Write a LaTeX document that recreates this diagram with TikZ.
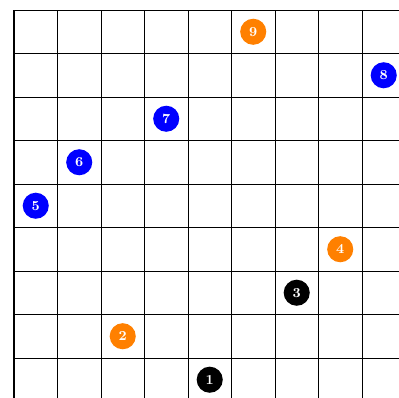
\documentclass[tikz,border=0pt]{standalone}
\usepackage{tikz}
\tikzset{
  piece/.style={circle, fill=#1, text=white, inner sep=0pt,
                minimum size=0.6cm, font=\small\bfseries},
  board/.style={black, line width=0.5pt},
}

\begin{document}
\begin{tikzpicture}
  \useasboundingbox (-0.3218,0.0805) rectangle (8.851,9.23);
  \clip (-0.3218,0.0805) rectangle (8.851,9.23);
  % Board
  \draw[board] (0,0) grid (9,9);
  \draw[very thick] (0,0)--(0,9);
  % Pieces: number/column/row/colour
  \foreach \n/\c/\r/\col in {1/4/0/black, 2/2/1/orange, 3/6/2/black,
      4/7/3/orange, 5/0/4/blue, 6/1/5/blue, 7/3/6/blue, 8/8/7/blue,
      9/5/8/orange}
    \node[piece=\col] (q\n) at (\c+0.5,\r+0.5) {\n};
\end{tikzpicture}
\end{document}
